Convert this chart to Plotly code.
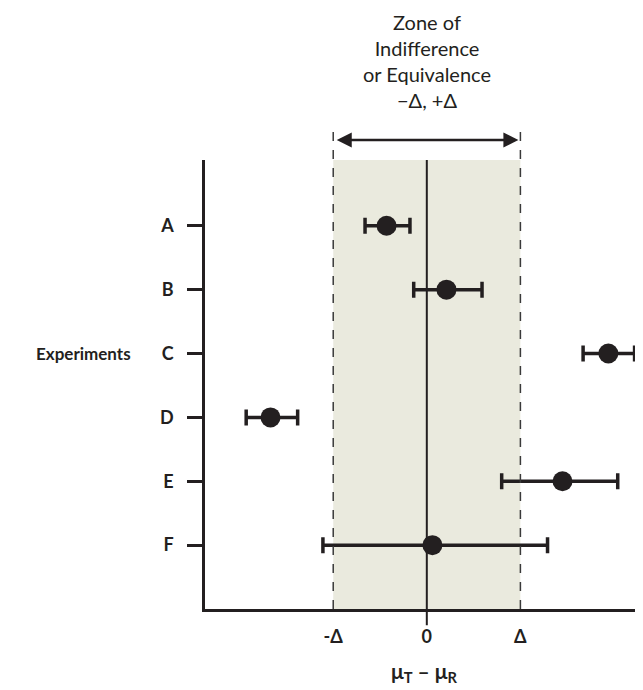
import plotly.graph_objects as go

experiments = ["A", "B", "C", "D", "E", "F"]
y_pos = [6, 5, 4, 3, 2, 1]
estimate = [-0.43, 0.21, 1.94, -1.67, 1.45, 0.06]
lower = [-0.66, -0.14, 1.67, -1.93, 0.80, -1.11]
upper = [-0.18, 0.59, 2.22, -1.38, 2.04, 1.29]
delta = 1.0
x_tick_vals = [-delta, 0, delta]
x_tick_text = ["<b>-Δ</b>", "<b>0</b>", "<b>Δ</b>"]

INK = "#231f20"
FONT = "Lato"

fig = go.Figure()
fig.add_trace(go.Scatter(
    x=estimate, y=y_pos, mode="markers",
    marker=dict(size=20, color=INK),
    error_x=dict(type="data", symmetric=False,
                 array=[u - e for u, e in zip(upper, estimate)],
                 arrayminus=[e - l for e, l in zip(estimate, lower)],
                 thickness=3.5, width=8, color=INK),
    showlegend=False, cliponaxis=False,
))

# shaded zone
fig.add_shape(type="rect", xref="x", yref="paper", x0=-delta, x1=delta, y0=0, y1=1,
              fillcolor="#eaeade", line_width=0, layer="below")
# dashed boundaries
for xv in (-delta, delta):
    fig.add_shape(type="line", xref="x", yref="paper", x0=xv, x1=xv, y0=0, y1=1.078,
                  line=dict(color="#3a3a3a", width=1.5, dash="dash"), layer="above")
# zero line
fig.add_shape(type="line", xref="x", yref="paper", x0=0, x1=0, y0=-0.036, y1=1,
              line=dict(color=INK, width=2), layer="below")
# double arrow
fig.add_annotation(x=delta, y=1.0445, ax=-delta, ay=0, xref="x", yref="paper",
                   axref="x", ayref="pixel", showarrow=True, arrowhead=2, arrowside="end+start",
                   arrowsize=1.2, arrowwidth=2.5, arrowcolor=INK, text="",
                   startarrowhead=2, startarrowsize=1.2, standoff=2, startstandoff=2)
fig.add_annotation(x=0, y=1.103, xref="x", yref="paper", yanchor="bottom",
                   text="Zone of<br>Indifference<br>or Equivalence<br>−Δ, +Δ",
                   showarrow=False, font=dict(family=FONT, size=20, color=INK))
fig.add_annotation(x=-0.164, y=4, xref="paper", yref="y", xanchor="right",
                   text="<b>Experiments</b>", showarrow=False,
                   font=dict(family=FONT, size=17, color=INK))

fig.update_layout(
    width=635, height=682,
    margin=dict(l=197, r=0, t=152, b=81),
    plot_bgcolor="white", paper_bgcolor="white",
    font=dict(family=FONT, color=INK),
    xaxis=dict(range=[-2.37, 2.31], showgrid=False, zeroline=False,
               showline=True, linecolor=INK, linewidth=2.5,
               tickvals=x_tick_vals, ticktext=x_tick_text, ticks="",
               ticklabelstandoff=10,
               tickfont=dict(size=18, family=FONT, color=INK),
               title=dict(text="<b>μ<sub>T</sub> – μ<sub>R</sub></b>",
                          font=dict(size=21, family=FONT, color=INK), standoff=18)),
    yaxis=dict(range=[0, 7.03], showgrid=False, zeroline=False,
               showline=True, linecolor=INK, linewidth=2.5,
               tickvals=y_pos, ticktext=["<b>%s</b>" % e for e in experiments],
               ticks="outside", ticklen=15, tickwidth=2.5, tickcolor=INK,
               ticklabelstandoff=10,
               tickfont=dict(size=18, family=FONT, color=INK)),
)

fig.write_html("out.html")
